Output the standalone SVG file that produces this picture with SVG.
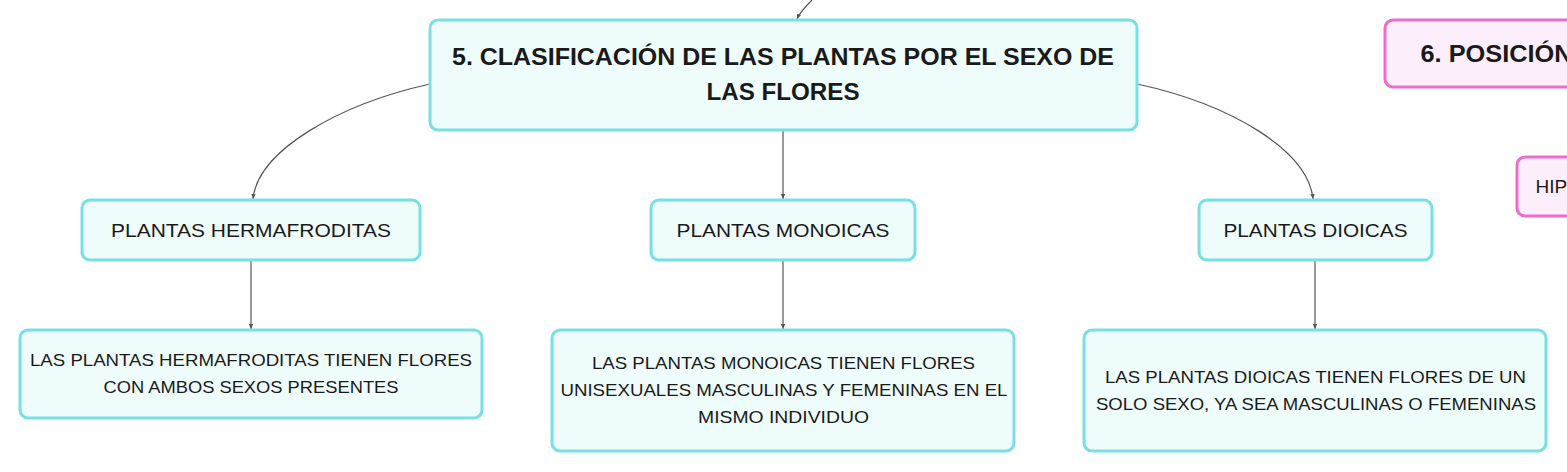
<svg xmlns="http://www.w3.org/2000/svg" width="1567" height="472" viewBox="0 0 1567 472">
<style>
.cy{fill:#effcfc;stroke:#78dfe2;stroke-width:3}
.pk{fill:#fdeefb;stroke:#ee6ccf;stroke-width:3}
.t{font-family:"Liberation Sans","Noto Sans",Arial,sans-serif;fill:#1a1a1a;text-anchor:middle}
.tb{font-size:23px;font-weight:bold}
.tm{font-size:19px}
.ts{font-size:17px}
.c{fill:none;stroke:#555;stroke-width:1.2}
</style>
<defs>
<marker id="ar" markerUnits="userSpaceOnUse" markerWidth="6" markerHeight="6" refX="5" refY="3" orient="auto">
<path d="M0,0.8 L5,3 L0,5.2 Z" fill="#555"/>
</marker>
</defs>
<rect width="1567" height="472" fill="#fff"/>
<g id="connectors">
<path class="c" d="M812,0 C806,6 800,12 797,19" marker-end="url(#ar)"/>
<path class="c" d="M430,84 C340,104 258,150 253,199" marker-end="url(#ar)"/>
<path class="c" d="M783,130 L783,199" marker-end="url(#ar)"/>
<path class="c" d="M1137,84 C1230,104 1308,150 1313,199" marker-end="url(#ar)"/>
<path class="c" d="M251,260 L251,329" marker-end="url(#ar)"/>
<path class="c" d="M783,260 L783,329" marker-end="url(#ar)"/>
<path class="c" d="M1315,260 L1315,329" marker-end="url(#ar)"/>
</g>
<g id="n5">
<rect class="cy" x="430" y="20" width="707" height="110" rx="8"/>
<text class="t tb" x="783" y="65" textLength="662" lengthAdjust="spacingAndGlyphs">5. CLASIFICACIÓN DE LAS PLANTAS POR EL SEXO DE</text>
<text class="t tb" x="783" y="100" textLength="153" lengthAdjust="spacingAndGlyphs">LAS FLORES</text>
</g>
<g id="n-herm">
<rect class="cy" x="82" y="200" width="338" height="60" rx="8"/>
<text class="t tm" x="251" y="237" textLength="280" lengthAdjust="spacingAndGlyphs">PLANTAS HERMAFRODITAS</text>
</g>
<g id="n-mono">
<rect class="cy" x="651" y="200" width="264" height="60" rx="8"/>
<text class="t tm" x="783" y="237" textLength="213" lengthAdjust="spacingAndGlyphs">PLANTAS MONOICAS</text>
</g>
<g id="n-dioi">
<rect class="cy" x="1199" y="200" width="233" height="60" rx="8"/>
<text class="t tm" x="1315.5" y="237" textLength="184" lengthAdjust="spacingAndGlyphs">PLANTAS DIOICAS</text>
</g>
<g id="d-herm">
<rect class="cy" x="20" y="330" width="462" height="88" rx="8"/>
<text class="t ts" x="251" y="366" textLength="442" lengthAdjust="spacingAndGlyphs">LAS PLANTAS HERMAFRODITAS TIENEN FLORES</text>
<text class="t ts" x="251" y="393" textLength="295" lengthAdjust="spacingAndGlyphs">CON AMBOS SEXOS PRESENTES</text>
</g>
<g id="d-mono">
<rect class="cy" x="552" y="330" width="462" height="121" rx="8"/>
<text class="t ts" x="783.5" y="369" textLength="383" lengthAdjust="spacingAndGlyphs">LAS PLANTAS MONOICAS TIENEN FLORES</text>
<text class="t ts" x="784" y="396" textLength="447" lengthAdjust="spacingAndGlyphs">UNISEXUALES MASCULINAS Y FEMENINAS EN EL</text>
<text class="t ts" x="783.5" y="422.5" textLength="171" lengthAdjust="spacingAndGlyphs">MISMO INDIVIDUO</text>
</g>
<g id="d-dioi">
<rect class="cy" x="1084" y="330" width="462" height="121" rx="8"/>
<text class="t ts" x="1315.5" y="383" textLength="421" lengthAdjust="spacingAndGlyphs">LAS PLANTAS DIOICAS TIENEN FLORES DE UN</text>
<text class="t ts" x="1316" y="410" textLength="440" lengthAdjust="spacingAndGlyphs">SOLO SEXO, YA SEA MASCULINAS O FEMENINAS</text>
</g>
<g id="n6">
<rect class="pk" x="1385" y="20" width="260" height="67" rx="8"/>
<text class="t tb" x="1420.5" y="62" style="text-anchor:start" textLength="152" lengthAdjust="spacingAndGlyphs">6. POSICIÓN</text>
</g>
<g id="n-hip">
<rect class="pk" x="1517" y="157" width="100" height="59" rx="8"/>
<text class="t tm" x="1535.5" y="193" style="text-anchor:start">HIP</text>
</g>
</svg>
